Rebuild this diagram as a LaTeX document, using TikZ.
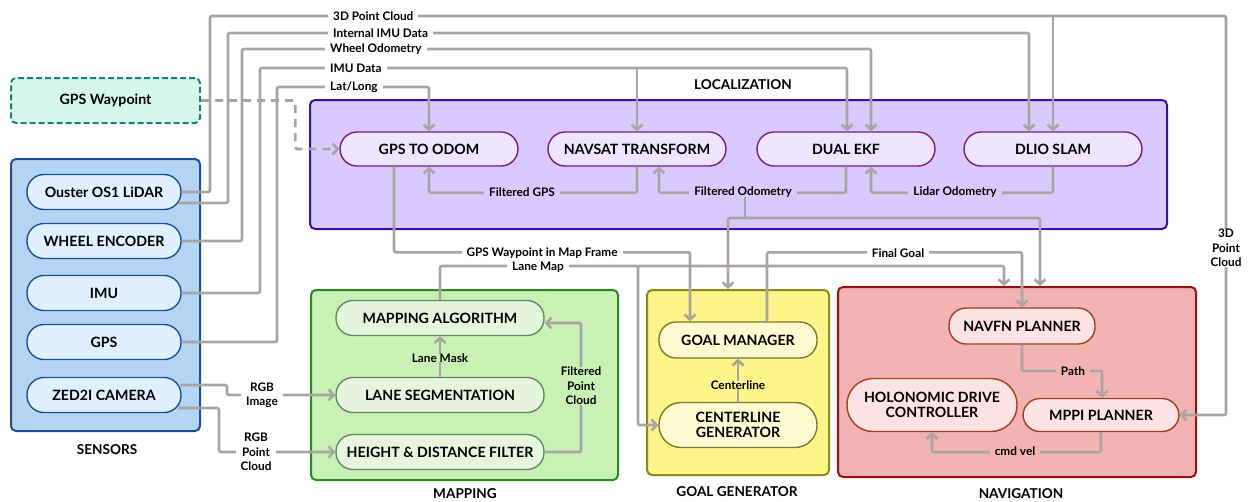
\documentclass[tikz,border=0pt]{standalone}
\usepackage{fontspec}
\setmainfont{Lato}
\usetikzlibrary{arrows.meta,calc}

\definecolor{wirec}{HTML}{A9A3A3}
\definecolor{sensbox}{HTML}{B4D5F2}
\definecolor{sensline}{HTML}{1D4E9E}
\definecolor{sensfill}{HTML}{E0F0FF}
\definecolor{wpfill}{HTML}{D5F8EB}
\definecolor{wpline}{HTML}{1C7F7F}
\definecolor{locbox}{HTML}{D9C9FC}
\definecolor{locline}{HTML}{3B0CA8}
\definecolor{locfill}{HTML}{EEE5FE}
\definecolor{locnline}{HTML}{7A1D7A}
\definecolor{mapbox}{HTML}{C9F1B5}
\definecolor{mapline}{HTML}{2D8A1F}
\definecolor{mapfill}{HTML}{E6F6DE}
\definecolor{mapnline}{HTML}{5F8C5F}
\definecolor{goalbox}{HTML}{FDF48A}
\definecolor{goalline}{HTML}{8C8A14}
\definecolor{goalfill}{HTML}{FEFBD0}
\definecolor{goalnline}{HTML}{7A7A2A}
\definecolor{navbox}{HTML}{F2B3B3}
\definecolor{navline}{HTML}{9B1111}
\definecolor{navfill}{HTML}{FDE3E3}
\definecolor{navnline}{HTML}{A33D20}

\tikzset{
  group/.style={draw, line width=2pt, rounded corners=5pt, inner sep=0pt},
  pill/.style={draw, line width=1.4pt, rounded corners=17pt, inner sep=2pt,
    align=center, font=\bfseries\fontsize{14.2}{16.5}\selectfont},
  sensnode/.style={pill, draw=sensline, fill=sensfill, minimum width=154pt, minimum height=35pt},
  locnode/.style={pill, draw=locnline, fill=locfill, minimum width=178pt, minimum height=34pt},
  mapnode/.style={pill, draw=mapnline, fill=mapfill, minimum width=208pt, minimum height=35pt},
  goalnode/.style={pill, draw=goalnline, fill=goalfill, minimum width=158pt},
  navnode/.style={pill, draw=navnline, fill=navfill},
  wire/.style={draw=wirec, line width=2.6pt, rounded corners=2pt},
  arr/.style={wire, -{Straight Barb[length=5pt,width=11pt]}},
  dasharr/.style={arr, dash pattern=on 8pt off 6pt},
  lbl/.style={font=\bfseries\fontsize{11.8}{14.5}\selectfont, fill=white,
    inner xsep=5pt, inner ysep=0pt, align=center, text=black},
  title/.style={font=\bfseries\fontsize{13.6}{16}\selectfont}
}

\begin{document}
\begin{tikzpicture}[x=1pt,y=-1pt]
\useasboundingbox (0,0) rectangle (1249,501);

% group boxes
\node[group, draw=sensline, fill=sensbox, minimum width=189pt, minimum height=272pt] (sensors) at (105.5,295) {};
\node[group, draw=wpline, fill=wpfill, dash pattern=on 6pt off 3pt, minimum width=189pt, minimum height=45pt,
  font=\bfseries\fontsize{14.2}{16.5}\selectfont] (gpswp) at (105.5,100.5) {GPS Waypoint};
\node[group, draw=locline, fill=locbox, minimum width=857pt, minimum height=129pt] (loc) at (738.5,164.5) {};
\node[group, draw=mapline, fill=mapbox, minimum width=307pt, minimum height=190pt] (mapping) at (464.5,385) {};
\node[group, draw=goalline, fill=goalbox, minimum width=182pt, minimum height=185pt] (goalgen) at (738,382.5) {};
\node[group, draw=navline, fill=navbox, minimum width=358pt, minimum height=190pt] (nav) at (1017,382) {};

% group titles
\node[title] (tsens) at (107,450) {SENSORS};
\node[title] (tloc) at (743,85) {LOCALIZATION};
\node[title] (tmap) at (465,494) {MAPPING};
\node[title] (tgoal) at (737,492) {GOAL GENERATOR};
\node[title] (tnav) at (1021,494) {NAVIGATION};

% sensors
\node[sensnode] (ouster) at (104,192) {Ouster OS1 LiDAR};
\node[sensnode] (wheel) at (104,241) {WHEEL ENCODER};
\node[sensnode] (imu) at (104,293) {IMU};
\node[sensnode] (gps) at (104,342) {GPS};
\node[sensnode] (zed) at (104,395) {ZED2I CAMERA};

% localization
\node[locnode] (g2o) at (429,149) {GPS TO ODOM};
\node[locnode] (navsat) at (637,149) {NAVSAT TRANSFORM};
\node[locnode] (ekf) at (846,149) {DUAL EKF};
\node[locnode] (dlio) at (1053,149) {DLIO SLAM};

% mapping
\node[mapnode] (mapalg) at (440,318) {MAPPING ALGORITHM};
\node[mapnode] (lseg) at (440,395) {LANE SEGMENTATION};
\node[mapnode] (hdf) at (440,452) {HEIGHT \& DISTANCE FILTER};

% goal generator
\node[goalnode, minimum height=36pt] (gm) at (738,340) {GOAL MANAGER};
\node[goalnode, minimum height=45pt, rounded corners=22pt] (clg) at (738,425) {CENTERLINE\\[-1pt]GENERATOR};

% navigation
\node[navnode, minimum width=146pt, minimum height=36pt] (navfn) at (1022,326) {NAVFN PLANNER};
\node[navnode, minimum width=170pt, minimum height=53pt, rounded corners=26pt] (holo) at (932,405) {HOLONOMIC DRIVE\\[-1pt]CONTROLLER};
\node[navnode, minimum width=156pt, minimum height=33pt] (mppi) at (1101,415) {MPPI PLANNER};

% sensor streams along the top
\draw[arr] (ouster.east) -| (210,16) -- (1226,16) |- (mppi.east);
\draw[arr] (dlio.north |- 0,16) -- (dlio.north);
\draw[arr] ($(ouster.east)+(-3,11)$) -| (228,33) -| ($(dlio.north)+(-24,0)$);
\draw[arr] (wheel.east) -| (242,49) -| ($(ekf.north)+(25,0)$);
\draw[arr] (imu.east) -| (260,68) -| ($(ekf.north)+(1,0)$);
\draw[arr] (navsat.north |- 0,68) -- (navsat.north);
\draw[arr] (gps.east) -| (277,87) -| (g2o.north);
\draw[dasharr] (gpswp.east) -| ($(g2o.west)+(-44,0)$) -- (g2o.west);

\node[lbl, anchor=west] (l3d) at (328,16) {3D Point Cloud};
\node[lbl, anchor=west] (limu2) at (328,33) {Internal IMU Data};
\node[lbl, anchor=west] (lwo) at (325,49) {Wheel Odometry};
\node[lbl, anchor=west] (limu) at (325,68) {IMU Data};
\node[lbl, anchor=west] (lll) at (325,87) {Lat/Long};
\node[lbl] (l3dr) at (1226,248) {3D\\Point\\Cloud};

% localization internals
\draw[arr] (navsat.south) -- ++(0,26) -| (g2o.south);
\draw[arr] (ekf.south) -- ++(0,26) -| ($(navsat.south)+(22,0)$);
\draw[arr] (dlio.south) -- ++(0,26) -| ($(ekf.south)+(25,0)$);
\draw[wire] (745,192) -- (745,218);
\draw[arr] (745,218) -| ($(goalgen.north)+(-10,0)$);
\draw[arr] (745,218) -| ($(nav.north)+(23,0)$);
\node[lbl, fill=locbox] (lfgps) at (522,192) {Filtered GPS};
\node[lbl, fill=locbox] (lfodo) at (743,192) {Filtered Odometry};
\node[lbl, fill=locbox] (llodo) at (955,192) {Lidar Odometry};

% map frame goal, lane map, final goal
\draw[arr] ($(g2o.south)+(-35,0)$) |- ($(gm.north)+(-48,-69)$) -- ($(gm.north)+(-48,0)$);
\draw[arr] (mapalg.north) |- ($(nav.north)+(-13,-20)$) -- ($(nav.north)+(-13,0)$);
\draw[arr] (638,267) |- (clg.west);
\draw[arr] ($(gm.north)+(29,0)$) |- ($(navfn.north)+(0,-55)$) -- (navfn.north);
\node[lbl] (lgwp) at (542,253) {GPS Waypoint in Map Frame};
\node[lbl] (llm) at (538,267) {Lane Map};
\node[lbl] (lfg) at (898,253) {Final Goal};

% mapping internals
\draw[arr] (lseg.north) -- (mapalg.south);
\draw[arr] (hdf.east) -| (581,323) -- ($(mapalg.east)+(0,5)$);
\draw[arr] ($(zed.east)+(-1,-10)$) -| (227,395) -- (lseg.west);
\draw[arr] ($(zed.east)+(-3,13)$) -| (219,452) -- (hdf.west);
\node[lbl, fill=mapbox] (llmask) at (440,358) {Lane Mask};
\node[lbl, fill=mapbox] (lfpc) at (581,386) {Filtered\\Point\\Cloud};
\node[lbl] (lrgbi) at (262,395) {RGB\\Image};
\node[lbl] (lrgbp) at (256,452) {RGB\\Point\\Cloud};

% goal generator internals
\draw[arr] (clg.north) -- (gm.south);
\node[lbl, fill=goalbox] (lcl) at (738,385) {Centerline};

% navigation internals
\draw[arr] (navfn.south) |- ($(mppi.north)+(1,-27)$) -- ($(mppi.north)+(1,0)$);
\draw[arr] (mppi.south) -- ++(0,20) -| (holo.south);
\node[lbl, fill=navbox] (lpath) at (1073,371) {Path};
\node[lbl, fill=navbox] (lcmd) at (1015,451) {cmd vel};
\end{tikzpicture}
\end{document}
